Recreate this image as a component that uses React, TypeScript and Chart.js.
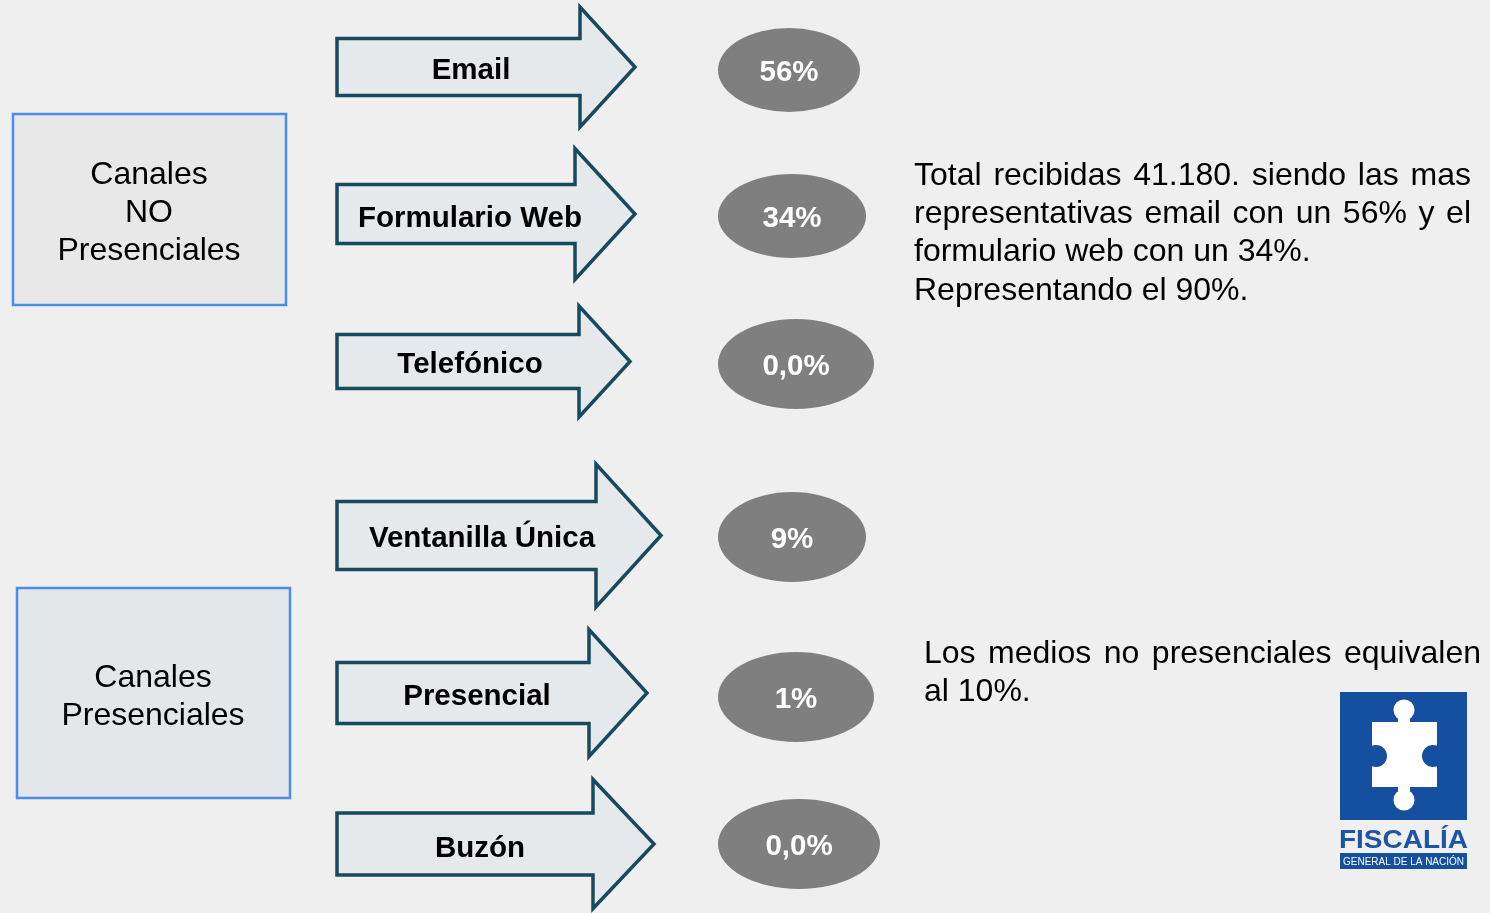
import React, { useEffect, useRef } from 'react';
import { Chart, registerables } from 'chart.js';
Chart.register(...registerables);

// ---- content ----
const channels = ['Email', 'Formulario Web', 'Telefónico', 'Ventanilla Única', 'Presencial', 'Buzón'];
const shares = ['56%', '34%', '0,0%', '9%', '1%', '0,0%'];
const groupTitles = [['Canales', 'NO', 'Presenciales'], ['Canales', 'Presenciales']];
const summaryLines = [
  'Total recibidas 41.180. siendo las mas',
  'representativas email con un 56% y el',
  'formulario web con un 34%.',
  'Representando el 90%.',
];
const summaryJustify = [true, true, false, false];
const noteLines = ['Los medios no presenciales equivalen', 'al 10%.'];
const noteJustify = [true, false];
const logoTitle = 'FISCALÍA';
const logoSubtitle = 'GENERAL DE LA NACIÓN';

// ---- layout (page coordinates) ----
const W = 1490;
const H = 913;
const arrowLayout = [
  { left: 337, base: 580, tip: 635, cy: 67, bh: 28.5, hh: 60, lx: 471, ly: 68 },
  { left: 337, base: 575, tip: 635, cy: 214, bh: 29.5, hh: 65.5, lx: 470, ly: 216 },
  { left: 337, base: 579, tip: 630, cy: 361.5, bh: 27, hh: 55.5, lx: 470, ly: 362 },
  { left: 337, base: 596, tip: 661, cy: 535.5, bh: 34, hh: 71.5, lx: 482, ly: 536 },
  { left: 337, base: 589, tip: 647, cy: 693, bh: 30.5, hh: 63.5, lx: 477, ly: 694 },
  { left: 337, base: 593, tip: 654, cy: 844, bh: 31, hh: 64.5, lx: 480, ly: 846 },
];
const ellipseLayout = [
  { cx: 789, cy: 70, rx: 71, ry: 42 },
  { cx: 792, cy: 216, rx: 74, ry: 42 },
  { cx: 796, cy: 364, rx: 78, ry: 45 },
  { cx: 792, cy: 537, rx: 74, ry: 45 },
  { cx: 796, cy: 697, rx: 78, ry: 45 },
  { cx: 799, cy: 844, rx: 81, ry: 45 },
];
const boxLayout = [
  { x0: 13, y0: 114, x1: 286, y1: 305, fill: '#e8e8e8', cx: 149, baselines: [184, 222, 260] },
  { x0: 17, y0: 588, x1: 290, y1: 798, fill: '#e3e7ea', cx: 153, baselines: [687, 725] },
];
const summaryBox = { x0: 914, x1: 1471, baselines: [185, 223, 261, 299.5] };
const noteBox = { x0: 924, x1: 1481, baselines: [663, 701] };

const FONT = '"Liberation Sans", Arial, sans-serif';

function drawJustified(ctx: CanvasRenderingContext2D, text: string, x0: number, x1: number, y: number, justify: boolean) {
  if (!justify) {
    ctx.textAlign = 'left';
    ctx.fillText(text, x0, y);
    return;
  }
  const words = text.split(' ');
  const widths = words.map((w) => ctx.measureText(w).width);
  const total = widths.reduce((a, b) => a + b, 0);
  const gap = (x1 - x0 - total) / (words.length - 1);
  let x = x0;
  ctx.textAlign = 'left';
  words.forEach((w, i) => {
    ctx.fillText(w, x, y);
    x += widths[i] + gap;
  });
}

const infographicPlugin = {
  id: 'infographic',
  beforeDraw(chart: any) {
    const { ctx } = chart;
    ctx.save();
    ctx.fillStyle = '#efefef';
    ctx.fillRect(0, 0, chart.width, chart.height);
    ctx.restore();
  },
  afterDatasetsDraw(chart: any) {
    const { ctx } = chart;
    const xs = chart.scales.x;
    const ys = chart.scales.y;
    const px = (v: number) => xs.getPixelForValue(v);
    const py = (v: number) => ys.getPixelForValue(v);
    ctx.save();

    // group boxes
    boxLayout.forEach((b, i) => {
      ctx.fillStyle = b.fill;
      ctx.fillRect(px(b.x0), py(b.y0), px(b.x1) - px(b.x0), py(b.y1) - py(b.y0));
      ctx.strokeStyle = '#4a8cf0';
      ctx.lineWidth = 2.5;
      ctx.strokeRect(px(b.x0), py(b.y0), px(b.x1) - px(b.x0), py(b.y1) - py(b.y0));
      ctx.fillStyle = '#000000';
      ctx.font = `32px ${FONT}`;
      ctx.textAlign = 'center';
      ctx.textBaseline = 'alphabetic';
      groupTitles[i].forEach((line, j) => ctx.fillText(line, px(b.cx), py(b.baselines[j])));
    });

    // arrows
    arrowLayout.forEach((a, i) => {
      ctx.beginPath();
      ctx.moveTo(px(a.left), py(a.cy - a.bh));
      ctx.lineTo(px(a.base), py(a.cy - a.bh));
      ctx.lineTo(px(a.base), py(a.cy - a.hh));
      ctx.lineTo(px(a.tip), py(a.cy));
      ctx.lineTo(px(a.base), py(a.cy + a.hh));
      ctx.lineTo(px(a.base), py(a.cy + a.bh));
      ctx.lineTo(px(a.left), py(a.cy + a.bh));
      ctx.closePath();
      ctx.fillStyle = '#e5e9ec';
      ctx.fill();
      ctx.strokeStyle = '#174a5f';
      ctx.lineWidth = 3.5;
      ctx.lineJoin = 'miter';
      ctx.stroke();
      ctx.fillStyle = '#000000';
      ctx.font = `bold 29.5px ${FONT}`;
      ctx.textAlign = 'center';
      ctx.textBaseline = 'alphabetic';
      ctx.fillText(channels[i], px(a.lx), py(a.ly) + 10.5);
    });

    // ellipses from the dataset points
    const meta = chart.getDatasetMeta(0);
    meta.data.forEach((pt: any, i: number) => {
      const e = ellipseLayout[i];
      const rx = Math.abs(px(e.cx + e.rx) - px(e.cx));
      const ry = Math.abs(py(e.cy + e.ry) - py(e.cy));
      ctx.beginPath();
      ctx.ellipse(pt.x, pt.y, rx, ry, 0, 0, Math.PI * 2);
      ctx.fillStyle = '#7f7f7f';
      ctx.fill();
      ctx.fillStyle = '#ffffff';
      ctx.font = `bold 29.5px ${FONT}`;
      ctx.textAlign = 'center';
      ctx.textBaseline = 'alphabetic';
      ctx.fillText(shares[i], pt.x, pt.y + 11);
    });

    // paragraphs
    ctx.fillStyle = '#000000';
    ctx.font = `32px ${FONT}`;
    ctx.textBaseline = 'alphabetic';
    summaryLines.forEach((line, i) =>
      drawJustified(ctx, line, px(summaryBox.x0), px(summaryBox.x1), py(summaryBox.baselines[i]), summaryJustify[i])
    );
    noteLines.forEach((line, i) =>
      drawJustified(ctx, line, px(noteBox.x0), px(noteBox.x1), py(noteBox.baselines[i]), noteJustify[i])
    );

    // logo
    const blue = '#1550a0';
    ctx.fillStyle = blue;
    ctx.fillRect(px(1340), py(692), px(1467) - px(1340), py(820) - py(692));
    ctx.fillStyle = '#ffffff';
    ctx.fillRect(px(1372), py(722), px(1437) - px(1372), py(787) - py(722));
    ctx.fillRect(px(1398), py(712), px(1410) - px(1398), py(722) - py(712));
    ctx.fillRect(px(1398), py(787), px(1410) - px(1398), py(797) - py(787));
    ctx.beginPath();
    ctx.arc(px(1404), py(710), 10.5, 0, Math.PI * 2);
    ctx.fill();
    ctx.beginPath();
    ctx.arc(px(1404), py(800), 10.5, 0, Math.PI * 2);
    ctx.fill();
    ctx.fillStyle = blue;
    ctx.beginPath();
    ctx.arc(px(1376), py(756), 11, 0, Math.PI * 2);
    ctx.fill();
    ctx.beginPath();
    ctx.arc(px(1433), py(756), 11, 0, Math.PI * 2);
    ctx.fill();

    // logo title
    ctx.font = `bold 25px ${FONT}`;
    const tw = ctx.measureText(logoTitle).width;
    const targetW = px(1468) - px(1339);
    ctx.save();
    ctx.translate(px(1339), py(848));
    ctx.scale(targetW / tw, 1);
    ctx.fillStyle = '#1d54a3';
    ctx.textAlign = 'left';
    ctx.fillText(logoTitle, 0, 0);
    ctx.restore();

    ctx.fillStyle = blue;
    ctx.fillRect(px(1340), py(853), px(1467) - px(1340), py(869) - py(853));
    ctx.font = `10px ${FONT}`;
    const sw = ctx.measureText(logoSubtitle).width;
    const sTarget = px(1464) - px(1343);
    ctx.save();
    ctx.translate(px(1343), py(865));
    ctx.scale(sTarget / sw, 1);
    ctx.fillStyle = '#ffffff';
    ctx.textAlign = 'left';
    ctx.fillText(logoSubtitle, 0, 0);
    ctx.restore();

    ctx.restore();
  },
};

export default function App() {
  const ref = useRef<HTMLCanvasElement | null>(null);
  useEffect(() => {
    document.body.style.margin = '0';
    const canvas = ref.current;
    if (!canvas) return;
    const chart = new Chart(canvas, {
      type: 'scatter',
      data: {
        datasets: [
          {
            label: 'shares',
            data: ellipseLayout.map((e) => ({ x: e.cx, y: e.cy })),
            pointRadius: 0,
            pointHoverRadius: 0,
            showLine: false,
          },
        ],
      },
      options: {
        animation: false,
        responsive: false,
        maintainAspectRatio: false,
        devicePixelRatio: 1,
        layout: { padding: 0 },
        events: [],
        scales: {
          x: { type: 'linear', min: 0, max: W, display: false },
          y: { type: 'linear', min: 0, max: H, reverse: true, display: false },
        },
        plugins: { legend: { display: false }, tooltip: { enabled: false } },
      },
      plugins: [infographicPlugin],
    });
    return () => chart.destroy();
  }, []);
  return (
    <div style={{ position: 'absolute', left: 0, top: 0, width: W, height: H }}>
      <canvas ref={ref} width={W} height={H} style={{ width: W, height: H, display: 'block' }} />
    </div>
  );
}
